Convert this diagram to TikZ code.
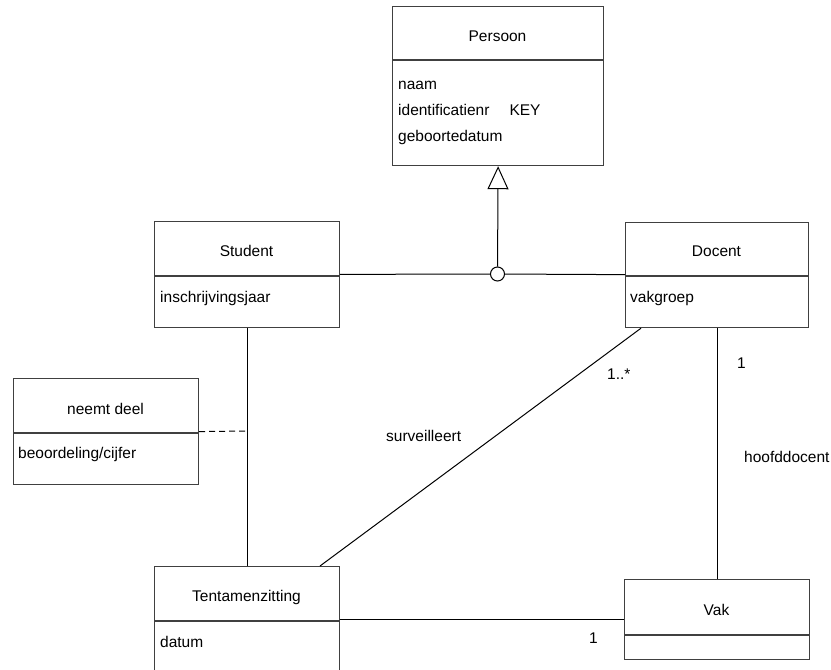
\documentclass[tikz,border=0pt]{standalone}
\usepackage{fontspec}
\setmainfont{Liberation Sans}
\usetikzlibrary{arrows.meta}

\begin{document}
\begin{tikzpicture}[x=1pt,y=-1pt,font=\fontsize{15.5}{18}\selectfont,
  cls/.style={draw=black!75,line width=1.2pt,rectangle,anchor=north west,inner sep=0pt},
  sep/.style={draw=black!75,line width=1.2pt},
  attr/.style={anchor=base west,inner sep=0pt},
  title/.style={anchor=base,inner sep=0pt},
  conn/.style={line width=1pt}]
\useasboundingbox (0,0) rectangle (831,670);
\clip (0,0) rectangle (831,670);
% classes
\node[cls,minimum width=211pt,minimum height=159pt] (persoon) at (392,6) {};
\draw[sep] ([yshift=-54pt]persoon.north west) -- ([yshift=-54pt]persoon.north east);
\node[title] (persoonT) at (497.5,41) {Persoon};
\node[attr] (naam) at (398,89) {naam};
\node[attr] (idnr) at (398,115) {identificatienr\hspace{20pt}KEY};
\node[attr] (gebdat) at (398,141) {geboortedatum};

\node[cls,minimum width=185pt,minimum height=106pt] (student) at (154,221) {};
\draw[sep] ([yshift=-55pt]student.north west) -- ([yshift=-55pt]student.north east);
\node[title] (studentT) at (246.5,256) {Student};
\node[attr] (jaar) at (160,302) {inschrijvingsjaar};

\node[cls,minimum width=183pt,minimum height=105pt] (docent) at (625,222) {};
\draw[sep] ([yshift=-54pt]docent.north west) -- ([yshift=-54pt]docent.north east);
\node[title] (docentT) at (716.5,256) {Docent};
\node[attr] (groep) at (630,302) {vakgroep};

\node[cls,minimum width=185pt,minimum height=106pt] (neemt) at (13,378) {};
\draw[sep] ([yshift=-55pt]neemt.north west) -- ([yshift=-55pt]neemt.north east);
\node[title] (neemtT) at (105.5,414) {neemt deel};
\node[attr] (cijfer) at (18,458) {beoordeling/cijfer};

\node[cls,minimum width=185pt,minimum height=106pt] (tentamen) at (154,566) {};
\draw[sep] ([yshift=-55pt]tentamen.north west) -- ([yshift=-55pt]tentamen.north east);
\node[title] (tentamenT) at (246.5,601) {Tentamenzitting};
\node[attr] (datum) at (160,647) {datum};

\node[cls,minimum width=185pt,minimum height=80pt] (vak) at (624,579) {};
\draw[sep] ([yshift=-56pt]vak.north west) -- ([yshift=-56pt]vak.north east);
\node[title] (vakT) at (716.5,615) {Vak};

% generalisation
\node[circle,draw,line width=1pt,fill=white,minimum size=14pt,inner sep=0pt] (gen) at (497.5,274) {};
\draw[conn] (student) -- (gen) -- (docent);
\draw[conn,-{Triangle[open,length=23pt,width=21pt]}] (gen) -- (persoon.south);

% associations
\draw[conn] (student) -- (tentamen);
\coordinate (link) at (246.5,431);
\draw[conn,dash pattern=on 6pt off 4pt] (neemt.east) -- (link);
\draw[conn] ([xshift=16pt]docent.south west) -- ([xshift=166pt]tentamen.north west);
\draw[conn] (docent) -- (vak);
\draw[conn] (tentamen) -- (vak);

\node[attr] (survT) at (386,441) {surveilleert};
\node[attr] (multA) at (607,379) {1..*};
\node[attr] (multB) at (737,368) {1};
\node[attr] (hoofdT) at (744,462) {hoofddocent};
\node[attr] (multC) at (589,643) {1};
\end{tikzpicture}
\end{document}
